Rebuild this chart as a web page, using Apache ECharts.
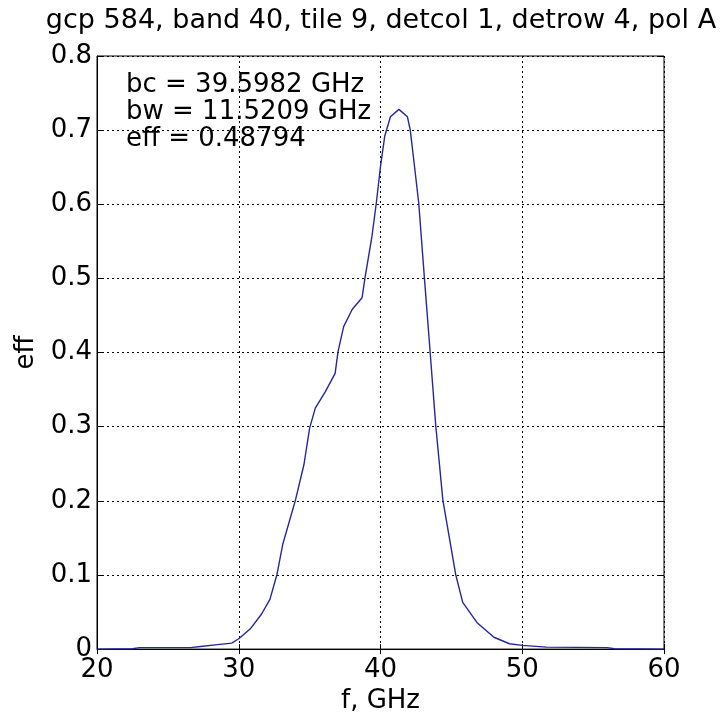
<!DOCTYPE html>
<html>
<head>
<meta charset="utf-8">
<script src="https://cdn.jsdelivr.net/npm/echarts@6/dist/echarts.min.js"></script>
<style>
  html, body { margin: 0; padding: 0; background: #fff; }
  #main { width: 721px; height: 719px; }
</style>
</head>
<body>
<div id="main"></div>
<script>
// frequency (GHz) and efficiency
const freq = [20, 22.5, 23, 26.6, 27.3, 28.5, 29.5, 30.0, 30.8, 31.6, 32.2, 32.7, 33.1, 34.0, 34.6,
  35.0, 35.4, 36.1, 36.8, 37.0, 37.4, 38.0, 38.7, 38.9, 39.4, 39.7, 40.0, 40.3, 40.5, 40.7,
  41.3, 41.9, 42.1, 42.4, 42.7, 43.1, 43.5, 43.9, 44.4, 45.3, 45.8, 46.8, 48.0, 49.1, 50.0,
  51.7, 56.0, 56.5, 60];
const eff = [0, 0.0005, 0.002, 0.002, 0.0036, 0.006, 0.008, 0.014, 0.027, 0.047, 0.067, 0.101, 0.141, 0.201, 0.249,
  0.298, 0.325, 0.347, 0.372, 0.401, 0.435, 0.458, 0.474, 0.50, 0.557, 0.601, 0.651, 0.692, 0.705, 0.718,
  0.728, 0.718, 0.70, 0.651, 0.601, 0.50, 0.401, 0.301, 0.201, 0.101, 0.063, 0.036, 0.016, 0.0072, 0.005,
  0.0027, 0.002, 0.0005, 0];
const titleText = 'gcp 584, band 40, tile 9, detcol 1, detrow 4, pol A';
const notes = ['bc = 39.5982 GHz', 'bw = 11.5209 GHz', 'eff = 0.48794'];

const FONT = 'DejaVu Sans';
const chart = echarts.init(document.getElementById('main'));

const gridLine = { show: true, lineStyle: { color: '#000', type: [2, 3], width: 1 } };
const tick = { show: true, inside: true, length: 5, lineStyle: { color: '#000' } };

chart.setOption({
  animation: false,
  backgroundColor: '#fff',
  title: {
    text: titleText, left: 376, top: 2, textAlign: 'center',
    textStyle: { fontFamily: FONT, fontSize: 27, fontWeight: 'normal', color: '#000' }
  },
  grid: { left: 97, right: 57, top: 56, bottom: 67, show: true, borderColor: '#000', borderWidth: 1 },
  xAxis: [{
    type: 'value', min: 20, max: 60, interval: 10,
    name: 'f, GHz', nameLocation: 'middle', nameGap: 38,
    nameTextStyle: { fontFamily: FONT, fontSize: 26, color: '#000' },
    axisLine: { show: true, lineStyle: { color: '#000' } },
    axisTick: tick,
    axisLabel: { fontFamily: FONT, fontSize: 26, color: '#000', margin: 8 },
    splitLine: gridLine
  }, {
    type: 'value', min: 20, max: 60, interval: 10, position: 'top',
    axisLine: { show: false }, axisTick: tick, axisLabel: { show: false }, splitLine: { show: false }
  }],
  yAxis: [{
    type: 'value', min: 0, max: 0.8, interval: 0.1,
    name: 'eff', nameLocation: 'middle', nameGap: 58,
    nameTextStyle: { fontFamily: FONT, fontSize: 26, color: '#000' },
    axisLine: { show: true, lineStyle: { color: '#000' } },
    axisTick: tick,
    axisLabel: { fontFamily: FONT, fontSize: 26, color: '#000', margin: 5,
      formatter: v => String(+v.toFixed(1)) },
    splitLine: gridLine
  }, {
    type: 'value', min: 0, max: 0.8, interval: 0.1, position: 'right',
    axisLine: { show: false }, axisTick: tick, axisLabel: { show: false }, splitLine: { show: false }
  }],
  graphic: notes.map((t, i) => ({
    type: 'text', left: 126, top: 72 + i * 27,
    style: { text: t, fontFamily: FONT, fontSize: 26, fill: '#000' }
  })),
  series: [{
    type: 'line',
    data: freq.map((f, i) => [f, eff[i]]),
    symbol: 'none',
    lineStyle: { color: '#2626a0', width: 1.4 }
  }]
});
</script>
</body>
</html>
